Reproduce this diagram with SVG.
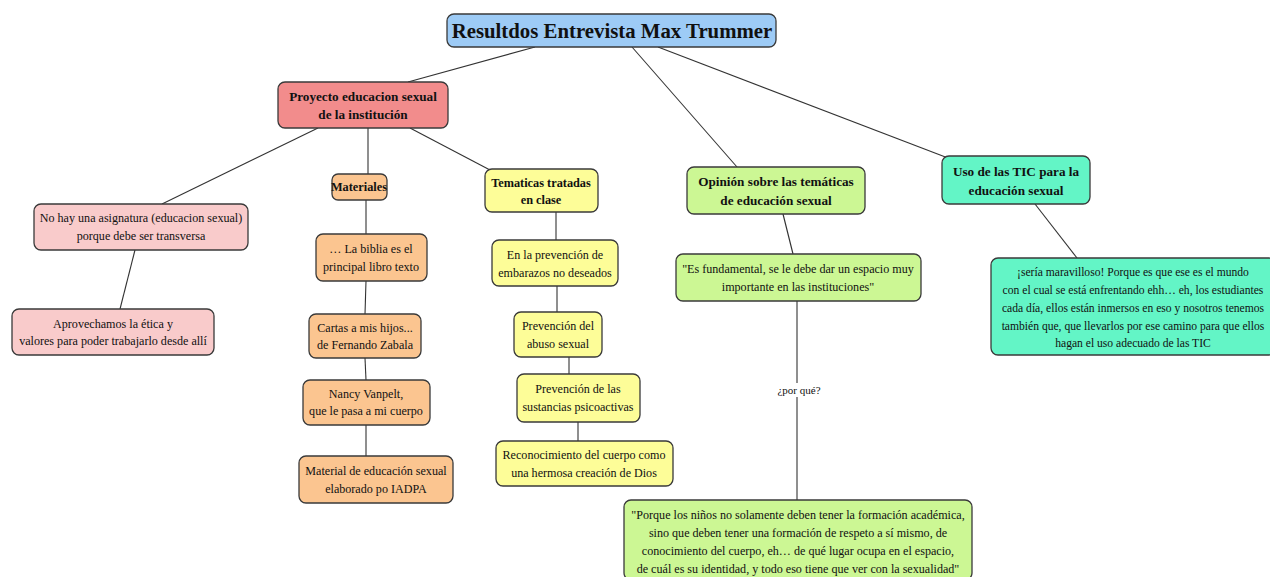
<svg xmlns="http://www.w3.org/2000/svg" width="1270" height="577" viewBox="0 0 1270 577">
<style>
.n{stroke:#3a3a3a;stroke-width:1.3}
.t{font-family:"Liberation Serif",serif;font-size:12.1px;fill:#111;text-anchor:middle}
.b{font-weight:bold;font-size:13.2px}
.c line{stroke:#333;stroke-width:1.1}
.blue{fill:#9dcbf6}.red{fill:#f28c8c}.pink{fill:#f9cbcb}.org{fill:#fbc590}.yel{fill:#fdfd98}.grn{fill:#ccf794}.teal{fill:#63f5c6}
</style>
<rect width="1270" height="577" fill="#fff"/>
<g class="c">
<line x1="535" y1="47" x2="408" y2="82"/>
<line x1="632" y1="47" x2="737" y2="167"/>
<line x1="658" y1="47" x2="948" y2="158"/>
<line x1="318" y1="128" x2="162" y2="204"/>
<line x1="368" y1="128" x2="368" y2="174"/>
<line x1="410" y1="128" x2="490" y2="170"/>
<line x1="135" y1="250" x2="120" y2="309"/>
<line x1="366" y1="200" x2="366" y2="234"/>
<line x1="366" y1="281" x2="365" y2="314"/>
<line x1="365" y1="358" x2="366" y2="380"/>
<line x1="366" y1="425" x2="366" y2="456"/>
<line x1="556" y1="212" x2="556" y2="240"/>
<line x1="557" y1="286" x2="557" y2="312"/>
<line x1="569" y1="357" x2="569" y2="374"/>
<line x1="578" y1="422" x2="578" y2="441"/>
<line x1="783" y1="214" x2="793" y2="254"/>
<line x1="797" y1="301" x2="797" y2="500"/>
<line x1="1035" y1="204" x2="1077" y2="258"/>
</g>
<g id="lbl-porque"><rect x="778" y="383" width="42" height="14" fill="#fff"/><text class="t" x="799" y="394" style="font-size:11px">¿por qué?</text></g>
<g id="root"><rect class="n blue" x="447" y="14" width="329" height="33" rx="7"/><text class="t" x="612" y="38" style="font-size:20.8px;font-weight:bold">Resultdos Entrevista Max Trummer</text></g>
<g id="proyecto"><rect class="n red" x="278" y="82" width="170" height="46" rx="7"/><text class="t b" x="363" y="101">Proyecto educacion sexual</text><text class="t b" x="363" y="119">de la institución</text></g>
<g id="nohay"><rect class="n pink" x="34" y="204" width="214" height="46" rx="7"/><text class="t" x="141" y="222">No hay una asignatura (educacion sexual)</text><text class="t" x="141" y="240">porque debe ser transversa</text></g>
<g id="aprovechamos"><rect class="n pink" x="12" y="309" width="202" height="46" rx="7"/><text class="t" x="113" y="328">Aprovechamos la ética y</text><text class="t" x="113" y="345">valores para poder trabajarlo desde allí</text></g>
<g id="materiales"><rect class="n org" x="332" y="174" width="55" height="26" rx="6"/><text class="t b" x="359" y="191" style="font-size:12.3px">Materiales</text></g>
<g id="biblia"><rect class="n org" x="316" y="234" width="111" height="47" rx="7"/><text class="t" x="371" y="253">… La biblia es el</text><text class="t" x="371" y="271">principal libro texto</text></g>
<g id="cartas"><rect class="n org" x="309" y="314" width="112" height="44" rx="7"/><text class="t" x="365" y="332">Cartas a mis hijos...</text><text class="t" x="365" y="349">de Fernando Zabala</text></g>
<g id="nancy"><rect class="n org" x="303" y="380" width="127" height="45" rx="7"/><text class="t" x="366" y="398">Nancy Vanpelt,</text><text class="t" x="366" y="415">que le pasa a mi cuerpo</text></g>
<g id="iadpa"><rect class="n org" x="299" y="456" width="154" height="47" rx="7"/><text class="t" x="376" y="475">Material de educación sexual</text><text class="t" x="376" y="493">elaborado po IADPA</text></g>
<g id="tematicas"><rect class="n yel" x="485" y="169" width="113" height="43" rx="7"/><text class="t b" x="541" y="187" style="font-size:12.3px">Tematicas tratadas</text><text class="t b" x="541" y="204" style="font-size:12.3px">en clase</text></g>
<g id="embarazos"><rect class="n yel" x="492" y="240" width="126" height="46" rx="7"/><text class="t" x="555" y="259">En la prevención de</text><text class="t" x="555" y="277">embarazos no deseados</text></g>
<g id="abuso"><rect class="n yel" x="514" y="312" width="88" height="45" rx="7"/><text class="t" x="558" y="330">Prevención del</text><text class="t" x="558" y="348">abuso sexual</text></g>
<g id="sustancias"><rect class="n yel" x="517" y="374" width="123" height="48" rx="7"/><text class="t" x="578" y="393">Prevención de las</text><text class="t" x="578" y="411">sustancias psicoactivas</text></g>
<g id="reconocimiento"><rect class="n yel" x="496" y="441" width="177" height="45" rx="7"/><text class="t" x="584" y="459">Reconocimiento del cuerpo como</text><text class="t" x="584" y="477">una hermosa creación de Dios</text></g>
<g id="opinion"><rect class="n grn" x="687" y="167" width="178" height="47" rx="7"/><text class="t b" x="776" y="186">Opinión sobre las temáticas</text><text class="t b" x="776" y="205">de educación sexual</text></g>
<g id="fundamental"><rect class="n grn" x="676" y="254" width="245" height="47" rx="7"/><text class="t" x="798" y="273">"Es fundamental, se le debe dar un espacio muy</text><text class="t" x="798" y="291">importante en las instituciones"</text></g>
<g id="porque"><rect class="n grn" x="624" y="500" width="348" height="80" rx="7"/><text class="t" x="798" y="519">"Porque los niños no solamente deben tener la formación académica,</text><text class="t" x="798" y="537">sino que deben tener una formación de respeto a sí mismo, de</text><text class="t" x="798" y="555">conocimiento del cuerpo, eh… de qué lugar ocupa en el espacio,</text><text class="t" x="798" y="573">de cuál es su identidad, y todo eso tiene que ver con la sexualidad"</text></g>
<g id="tic"><rect class="n teal" x="942" y="156" width="148" height="48" rx="7"/><text class="t b" x="1016" y="176">Uso de las TIC para la</text><text class="t b" x="1016" y="195">educación sexual</text></g>
<g id="seria"><rect class="n teal" x="991" y="258" width="285" height="97" rx="7"/><text class="t" x="1133" y="276" style="font-size:11.6px">¡sería maravilloso! Porque es que ese es el mundo</text><text class="t" x="1133" y="294" style="font-size:11.6px">con el cual se está enfrentando ehh… eh, los estudiantes</text><text class="t" x="1133" y="312" style="font-size:11.6px">cada día, ellos están inmersos en eso y nosotros tenemos</text><text class="t" x="1133" y="330" style="font-size:11.6px">también que, que llevarlos por ese camino para que ellos</text><text class="t" x="1133" y="347" style="font-size:11.6px">hagan el uso adecuado de las TIC</text></g>
</svg>
